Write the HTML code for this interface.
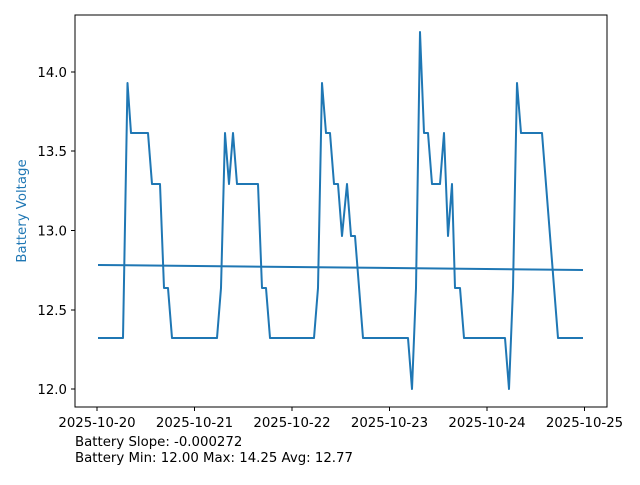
<!DOCTYPE html>
<html><head><meta charset="utf-8"><style>
body{margin:0;background:#fff}
svg text{font-family:"DejaVu Sans","Liberation Sans",sans-serif;font-size:13.3px;fill:#000}
</style></head><body>
<svg width="640" height="480" xmlns="http://www.w3.org/2000/svg">
<rect width="640" height="480" fill="#fff"/>
<g stroke="#000" stroke-width="1">
<line x1="97" y1="407" x2="97" y2="411"/><line x1="194.5" y1="407" x2="194.5" y2="411"/><line x1="292" y1="407" x2="292" y2="411"/><line x1="389.5" y1="407" x2="389.5" y2="411"/><line x1="487" y1="407" x2="487" y2="411"/><line x1="584.5" y1="407" x2="584.5" y2="411"/>
<line x1="71" y1="72" x2="75" y2="72"/><line x1="71" y1="151" x2="75" y2="151"/><line x1="71" y1="230.5" x2="75" y2="230.5"/><line x1="71" y1="310" x2="75" y2="310"/><line x1="71" y1="389" x2="75" y2="389"/>
</g>
<g text-anchor="middle">
<text x="97" y="427">2025-10-20</text><text x="194.5" y="427">2025-10-21</text><text x="292" y="427">2025-10-22</text><text x="389.5" y="427">2025-10-23</text><text x="487" y="427">2025-10-24</text><text x="584.5" y="427">2025-10-25</text>
</g>
<g text-anchor="end">
<text x="67" y="77">14.0</text><text x="67" y="156">13.5</text><text x="67" y="235.5">13.0</text><text x="67" y="315">12.5</text><text x="67" y="394">12.0</text>
</g>
<text transform="translate(26,211) rotate(-90)" text-anchor="middle" style="fill:#1f77b4">Battery Voltage</text>
<polyline fill="none" stroke="#1f77b4" stroke-width="2" stroke-linejoin="round" points="98,338 123,338 127.5,83 131,133 148,133 152,184 160,184 164,288 168,288 172,338 217,338 221,288 225,133 229,184 233,133 237,184 258,184 262,288 266,288 270,338 314,338 318,288 322,83 326,133 330,133 334,184 338,184 342,236 347,184 351,236 355,236 363,338 408,338 412,389 416,288 420,32 424,133 428,133 432,184 440,184 444,133 448,236 452,184 455,288 460,288 464,338 505,338 509,389 513,288 517,83 521,133 542,133 558,338 583,338"/>
<line x1="98" y1="265" x2="583" y2="270" stroke="#1f77b4" stroke-width="2"/>
<rect x="75" y="15" width="532" height="392" fill="none" stroke="#000" stroke-width="1"/>
<text x="75" y="446">Battery Slope: -0.000272</text>
<text x="75" y="462">Battery Min: 12.00 Max: 14.25 Avg: 12.77</text>
</svg>
</body></html>
